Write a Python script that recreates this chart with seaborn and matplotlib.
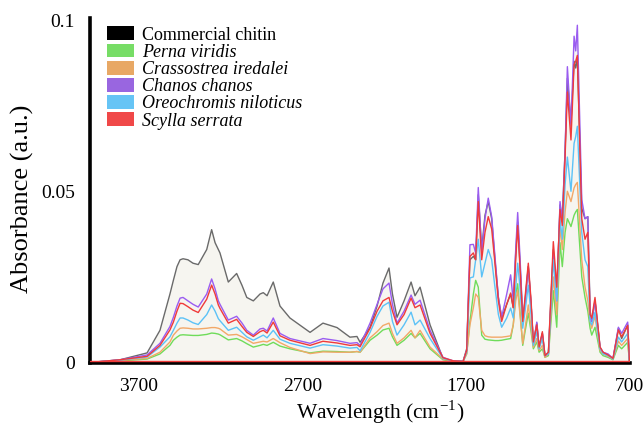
import matplotlib
matplotlib.use("Agg")
import matplotlib.pyplot as plt
import numpy as np
import pandas as pd
import seaborn as sns
from matplotlib.patches import Patch

# ---------------- data ----------------
wavenumber = [
    4000, 3816, 3651, 3572, 3511, 3490, 3468, 3449, 3431, 3401, 3370, 3338,
    3286, 3256, 3235, 3215, 3205, 3154, 3103, 3070, 3041, 3001, 2960, 2940,
    2917, 2879, 2838, 2777, 2654, 2575, 2489, 2410, 2367, 2348, 2287, 2244,
    2208, 2171, 2150, 2122, 2079, 2036, 2012, 1981, 1920, 1841, 1779, 1718,
    1696, 1676, 1655, 1641, 1625, 1604, 1584, 1564, 1543, 1523, 1502, 1482,
    1451, 1427, 1411, 1396, 1384, 1370, 1353, 1339, 1319, 1302, 1288, 1267,
    1253, 1233, 1217, 1196, 1166, 1145, 1125, 1111, 1094, 1080, 1058, 1039,
    1029, 1019, 992, 972, 955, 941, 931, 911, 880, 862, 831, 801, 768, 748,
    711, 700,
]

commercial_chitin = [
    0.0000, 0.0008, 0.0028, 0.0094, 0.0200, 0.0240, 0.0280, 0.0300, 0.0303, 0.0300, 0.0290, 0.0286,
    0.0330, 0.0388, 0.0350, 0.0330, 0.0320, 0.0235, 0.0260, 0.0225, 0.0190, 0.0180, 0.0200, 0.0204,
    0.0195, 0.0235, 0.0165, 0.0130, 0.0088, 0.0115, 0.0102, 0.0074, 0.0076, 0.0059, 0.0103, 0.0165,
    0.0232, 0.0276, 0.0200, 0.0132, 0.0180, 0.0235, 0.0195, 0.0220, 0.0110, 0.0012, 0.0004, 0.0003,
    0.0040, 0.0300, 0.0310, 0.0300, 0.0490, 0.0330, 0.0430, 0.0470, 0.0420, 0.0300, 0.0190, 0.0130,
    0.0170, 0.0200, 0.0160, 0.0320, 0.0410, 0.0290, 0.0130, 0.0180, 0.0280, 0.0170, 0.0055, 0.0115,
    0.0045, 0.0085, 0.0020, 0.0030, 0.0330, 0.0200, 0.0460, 0.0420, 0.0620, 0.0830, 0.0700, 0.0880,
    0.0860, 0.0890, 0.0450, 0.0420, 0.0426, 0.0150, 0.0120, 0.0180, 0.0044, 0.0030, 0.0020, 0.0010,
    0.0100, 0.0070, 0.0110, 0.0000,
]

perna_viridis = [
    0.0000, 0.0005, 0.0010, 0.0025, 0.0050, 0.0065, 0.0074, 0.0080, 0.0081, 0.0080, 0.0079, 0.0079,
    0.0082, 0.0086, 0.0085, 0.0083, 0.0081, 0.0066, 0.0070, 0.0063, 0.0055, 0.0045, 0.0050, 0.0053,
    0.0050, 0.0059, 0.0048, 0.0040, 0.0028, 0.0033, 0.0032, 0.0030, 0.0032, 0.0030, 0.0065, 0.0080,
    0.0095, 0.0100, 0.0075, 0.0050, 0.0065, 0.0085, 0.0072, 0.0085, 0.0040, 0.0008, 0.0003, 0.0003,
    0.0025, 0.0120, 0.0200, 0.0240, 0.0220, 0.0080, 0.0068, 0.0066, 0.0065, 0.0064, 0.0064, 0.0065,
    0.0068, 0.0070, 0.0110, 0.0200, 0.0230, 0.0150, 0.0050, 0.0090, 0.0144, 0.0090, 0.0040, 0.0060,
    0.0030, 0.0040, 0.0015, 0.0020, 0.0210, 0.0103, 0.0350, 0.0280, 0.0380, 0.0420, 0.0397, 0.0430,
    0.0440, 0.0447, 0.0250, 0.0190, 0.0150, 0.0100, 0.0080, 0.0103, 0.0030, 0.0020, 0.0015, 0.0008,
    0.0050, 0.0040, 0.0059, 0.0000,
]

crassostrea_iredalei = [
    0.0000, 0.0006, 0.0012, 0.0030, 0.0060, 0.0080, 0.0092, 0.0100, 0.0101, 0.0100, 0.0098, 0.0098,
    0.0100, 0.0102, 0.0102, 0.0100, 0.0098, 0.0080, 0.0082, 0.0075, 0.0067, 0.0056, 0.0060, 0.0062,
    0.0060, 0.0070, 0.0058, 0.0044, 0.0026, 0.0031, 0.0030, 0.0030, 0.0032, 0.0030, 0.0072, 0.0090,
    0.0108, 0.0115, 0.0085, 0.0056, 0.0072, 0.0094, 0.0072, 0.0094, 0.0045, 0.0010, 0.0004, 0.0003,
    0.0025, 0.0110, 0.0160, 0.0200, 0.0190, 0.0094, 0.0078, 0.0075, 0.0074, 0.0074, 0.0074, 0.0074,
    0.0076, 0.0078, 0.0110, 0.0180, 0.0210, 0.0140, 0.0055, 0.0100, 0.0168, 0.0100, 0.0045, 0.0070,
    0.0035, 0.0050, 0.0015, 0.0025, 0.0250, 0.0140, 0.0400, 0.0330, 0.0440, 0.0500, 0.0470, 0.0510,
    0.0520, 0.0526, 0.0300, 0.0220, 0.0180, 0.0120, 0.0100, 0.0135, 0.0035, 0.0025, 0.0018, 0.0010,
    0.0062, 0.0050, 0.0070, 0.0000,
]

chanos_chanos = [
    0.0000, 0.0008, 0.0022, 0.0056, 0.0105, 0.0132, 0.0165, 0.0188, 0.0190, 0.0180, 0.0170, 0.0162,
    0.0200, 0.0244, 0.0215, 0.0180, 0.0170, 0.0124, 0.0135, 0.0115, 0.0094, 0.0080, 0.0098, 0.0100,
    0.0092, 0.0130, 0.0085, 0.0070, 0.0056, 0.0070, 0.0064, 0.0056, 0.0058, 0.0050, 0.0115, 0.0170,
    0.0215, 0.0232, 0.0170, 0.0115, 0.0150, 0.0197, 0.0170, 0.0182, 0.0094, 0.0015, 0.0005, 0.0004,
    0.0035, 0.0344, 0.0345, 0.0320, 0.0511, 0.0320, 0.0420, 0.0480, 0.0426, 0.0310, 0.0190, 0.0132,
    0.0200, 0.0256, 0.0180, 0.0330, 0.0438, 0.0310, 0.0130, 0.0170, 0.0280, 0.0170, 0.0056, 0.0118,
    0.0044, 0.0085, 0.0020, 0.0025, 0.0320, 0.0180, 0.0470, 0.0416, 0.0620, 0.0864, 0.0690, 0.0953,
    0.0910, 0.0985, 0.0476, 0.0420, 0.0426, 0.0130, 0.0120, 0.0180, 0.0044, 0.0030, 0.0025, 0.0012,
    0.0103, 0.0085, 0.0118, 0.0000,
]

oreochromis_niloticus = [
    0.0000, 0.0007, 0.0016, 0.0045, 0.0075, 0.0094, 0.0115, 0.0130, 0.0130, 0.0124, 0.0116, 0.0111,
    0.0140, 0.0168, 0.0150, 0.0128, 0.0122, 0.0094, 0.0103, 0.0088, 0.0075, 0.0065, 0.0075, 0.0080,
    0.0072, 0.0094, 0.0068, 0.0056, 0.0042, 0.0052, 0.0048, 0.0042, 0.0044, 0.0034, 0.0088, 0.0135,
    0.0165, 0.0176, 0.0120, 0.0080, 0.0110, 0.0147, 0.0110, 0.0124, 0.0070, 0.0012, 0.0004, 0.0003,
    0.0030, 0.0247, 0.0250, 0.0300, 0.0360, 0.0250, 0.0290, 0.0330, 0.0300, 0.0220, 0.0140, 0.0103,
    0.0130, 0.0159, 0.0130, 0.0220, 0.0290, 0.0220, 0.0100, 0.0150, 0.0226, 0.0140, 0.0050, 0.0090,
    0.0040, 0.0070, 0.0020, 0.0025, 0.0300, 0.0180, 0.0418, 0.0360, 0.0520, 0.0600, 0.0500, 0.0640,
    0.0660, 0.0690, 0.0380, 0.0300, 0.0280, 0.0120, 0.0110, 0.0147, 0.0040, 0.0025, 0.0020, 0.0010,
    0.0074, 0.0060, 0.0085, 0.0000,
]

scylla_serrata = [
    0.0000, 0.0008, 0.0018, 0.0050, 0.0095, 0.0118, 0.0150, 0.0173, 0.0172, 0.0163, 0.0153, 0.0146,
    0.0185, 0.0226, 0.0200, 0.0168, 0.0158, 0.0115, 0.0126, 0.0105, 0.0088, 0.0076, 0.0090, 0.0094,
    0.0086, 0.0118, 0.0078, 0.0065, 0.0050, 0.0062, 0.0057, 0.0050, 0.0052, 0.0046, 0.0100, 0.0150,
    0.0180, 0.0190, 0.0150, 0.0110, 0.0140, 0.0188, 0.0160, 0.0168, 0.0085, 0.0014, 0.0005, 0.0003,
    0.0035, 0.0310, 0.0320, 0.0300, 0.0470, 0.0300, 0.0380, 0.0426, 0.0390, 0.0290, 0.0180, 0.0120,
    0.0170, 0.0203, 0.0160, 0.0300, 0.0400, 0.0280, 0.0120, 0.0190, 0.0290, 0.0180, 0.0060, 0.0110,
    0.0045, 0.0090, 0.0020, 0.0030, 0.0353, 0.0220, 0.0447, 0.0400, 0.0600, 0.0790, 0.0650, 0.0870,
    0.0880, 0.0897, 0.0420, 0.0360, 0.0380, 0.0140, 0.0130, 0.0190, 0.0045, 0.0030, 0.0022, 0.0012,
    0.0095, 0.0075, 0.0108, 0.0000,
]

series_names = ["Commercial chitin", "Perna viridis", "Crassostrea iredalei",
                "Chanos chanos", "Oreochromis niloticus", "Scylla serrata"]
line_colors = ["#6a6a6a", "#6fdc5a", "#f2a868", "#9a5cf0", "#5cc2f7", "#f03a3a"]
legend_colors = ["#000000", "#77dd66", "#e8a865", "#9966e0", "#66c4f5", "#f04848"]
x_ticks = [3700, 2700, 1700, 700]
y_ticks = [0, 0.05, 0.1]
y_tick_labels = ["0", "0.05", "0.1"]

# ---------------- build table ----------------
df = pd.DataFrame({
    "wn": wavenumber,
    series_names[0]: commercial_chitin,
    series_names[1]: perna_viridis,
    series_names[2]: crassostrea_iredalei,
    series_names[3]: chanos_chanos,
    series_names[4]: oreochromis_niloticus,
    series_names[5]: scylla_serrata,
})
long = df.melt(id_vars="wn", var_name="series", value_name="absorbance")

sns.set_theme(style="white")
plt.rcParams["font.family"] = ["Liberation Serif", "DejaVu Serif"]
plt.rcParams["mathtext.fontset"] = "stix"
plt.rcParams["text.color"] = "black"
plt.rcParams["axes.labelcolor"] = "black"

fig = plt.figure(figsize=(6.44, 4.40), dpi=100)
ax = fig.add_axes([90 / 644, 1 - 362.5 / 440, 539.5 / 644, (362.5 - 17.7) / 440])

# faint area fill under the spectra
env = df[series_names].max(axis=1)
ax.fill_between(df["wn"], 0, env, color="#f6f5f0", zorder=0, linewidth=0)

sns.lineplot(data=long, x="wn", y="absorbance", hue="series",
             hue_order=series_names, palette=dict(zip(series_names, line_colors)),
             estimator=None, sort=False, linewidth=1.0, legend=False, ax=ax)

ax.axhline(0.0005, color="#f03a3a", linewidth=1.0, zorder=5)

ax.set_xlim(4000, 700)
ax.set_ylim(0, 0.1007)
ax.set_xticks(x_ticks)
ax.set_xticklabels([str(t) for t in x_ticks])
ax.set_yticks(y_ticks)
ax.set_yticklabels(y_tick_labels)
ax.tick_params(axis="both", length=0, labelsize=14, colors="black")
ax.tick_params(axis="x", pad=11)
ax.tick_params(axis="y", pad=11)

for s in ["top", "right"]:
    ax.spines[s].set_visible(False)
for s in ["left", "bottom"]:
    ax.spines[s].set_color("black")
    ax.spines[s].set_linewidth(2.6)
    ax.spines[s].set_zorder(4)

ax.set_xlabel("Wavelength (cm$^{\\mathregular{-1}}$)", fontsize=15.5, color="black")
ax.xaxis.set_label_coords((380 - 90) / 539.5, -(399 - 362.5) / 344.8)
ax.set_ylabel("Absorbance (a.u.)", fontsize=19, color="black")
ax.yaxis.set_label_coords((34 - 90) / 539.5, (362.5 - 199) / 344.8)

handles = [Patch(facecolor=c, edgecolor="none") for c in legend_colors]
leg = ax.legend(handles, series_names, loc="upper left", bbox_to_anchor=(0.025, 0.985),
                frameon=False, fontsize=13, handlelength=1.5, handleheight=0.8,
                handletextpad=0.45, labelspacing=0.0, borderaxespad=0.0, borderpad=0.2)
for i, t in enumerate(leg.get_texts()):
    t.set_color("black")
    if i > 0:
        t.set_fontstyle("italic")

fig.savefig("out.png", dpi=100)
